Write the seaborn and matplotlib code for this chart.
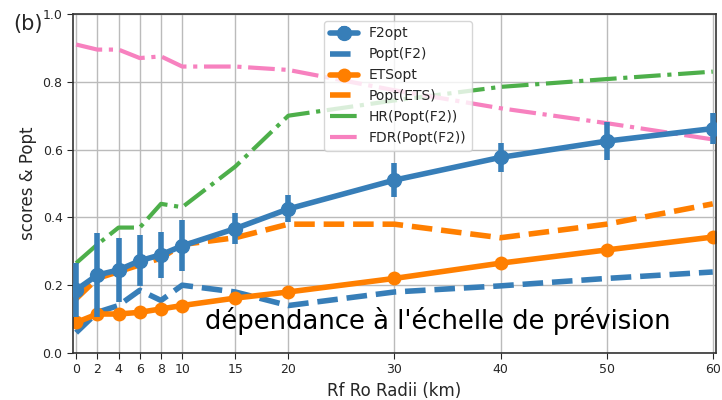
import numpy as np
import pandas as pd
import matplotlib
matplotlib.use("Agg")
import matplotlib.pyplot as plt
import seaborn as sns

radii = [0, 2, 4, 6, 8, 10, 15, 20, 30, 40, 50, 60]
f2opt = [0.186, 0.23, 0.245, 0.272, 0.29, 0.316, 0.367, 0.425, 0.51, 0.577, 0.625, 0.662]
f2opt_err = [0.08, 0.125, 0.095, 0.075, 0.068, 0.075, 0.045, 0.04, 0.05, 0.042, 0.055, 0.045]
popt_f2 = [0.06, 0.12, 0.14, 0.185, 0.155, 0.2, 0.18, 0.14, 0.18, 0.198, 0.22, 0.239]
etsopt = [0.09, 0.115, 0.115, 0.12, 0.13, 0.14, 0.162, 0.18, 0.22, 0.265, 0.304, 0.342]
popt_ets = [0.16, 0.22, 0.24, 0.26, 0.28, 0.32, 0.34, 0.38, 0.38, 0.34, 0.38, 0.44]
hr = [0.265, 0.32, 0.37, 0.37, 0.44, 0.43, 0.55, 0.70, 0.745, 0.785, 0.808, 0.83]
fdr = [0.91, 0.895, 0.895, 0.87, 0.875, 0.845, 0.845, 0.835, 0.775, 0.722, 0.678, 0.63]

blue, orange, green, pink = '#377eb8', '#ff7f00', '#4daf4a', '#f781bf'

sns.set_style("whitegrid")
plt.rcParams['font.family'] = ['DejaVu Sans']
fig = plt.figure(figsize=(7.22, 4), dpi=100)
ax = fig.add_axes([0.101, 0.1175, 0.8906, 0.8475])

df = pd.DataFrame({"r": radii, "F2opt": f2opt, "Popt(F2)": popt_f2, "ETSopt": etsopt,
                   "Popt(ETS)": popt_ets, "HR(Popt(F2))": hr, "FDR(Popt(F2))": fdr})

ax.errorbar(df["r"], df["F2opt"], yerr=f2opt_err, color=blue, lw=4, marker='o',
            ms=10, elinewidth=4, capsize=0, label="F2opt", zorder=5)
sns.lineplot(data=df, x="r", y="Popt(F2)", ax=ax, color=blue, lw=4,
             linestyle='--', label="Popt(F2)")
sns.lineplot(data=df, x="r", y="ETSopt", ax=ax, color=orange, lw=4,
             marker='o', markersize=10, markeredgewidth=0, label="ETSopt")
sns.lineplot(data=df, x="r", y="Popt(ETS)", ax=ax, color=orange, lw=4,
             linestyle='--', label="Popt(ETS)")
sns.lineplot(data=df, x="r", y="HR(Popt(F2))", ax=ax, color=green, lw=3,
             linestyle='-.', label="HR(Popt(F2))")
sns.lineplot(data=df, x="r", y="FDR(Popt(F2))", ax=ax, color=pink, lw=3,
             linestyle='-.', label="FDR(Popt(F2))")

ax.set_xlim(-0.3, 60.3)
ax.set_ylim(0, 1.0)
ax.set_xticks(radii)
ax.set_yticks([0, 0.2, 0.4, 0.6, 0.8, 1.0])
ax.set_yticklabels(["0.0", "0.2", "0.4", "0.6", "0.8", "1.0"])
ax.tick_params(labelsize=9, length=4, left=True, bottom=True)
ax.grid(True, color='#bbbbbb', lw=1)
for s in ax.spines.values():
    s.set_color('#333333')
    s.set_linewidth(1.2)
ax.set_xlabel("Rf Ro Radii (km)", fontsize=12)
ax.set_ylabel("scores & Popt", fontsize=12)

handles, labels = ax.get_legend_handles_labels()
order = ["F2opt", "Popt(F2)", "ETSopt", "Popt(ETS)", "HR(Popt(F2))", "FDR(Popt(F2))"]
hmap = dict(zip(labels, handles))
ax.legend([hmap[k] for k in order], order, loc='upper left', bbox_to_anchor=(0.38, 1.0),
          fontsize=10, frameon=True, framealpha=0.8)
ax.text(0.205, 0.072, "dépendance à l'échelle de prévision", transform=ax.transAxes,
        fontsize=18.6, color='black')
fig.text(0.018, 0.925, "(b)", fontsize=15)

fig.savefig("out.png", dpi=100)
